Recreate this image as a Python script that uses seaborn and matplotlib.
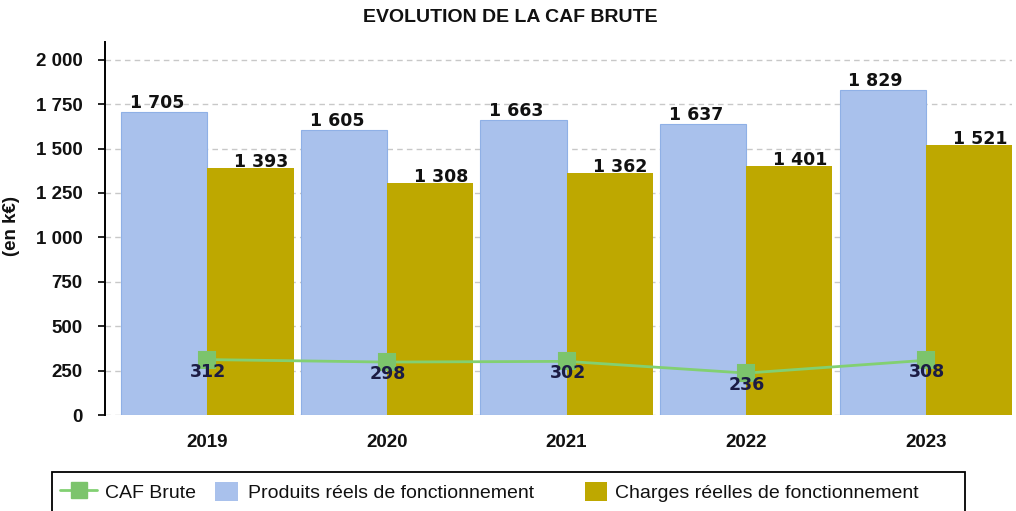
import matplotlib
matplotlib.use("Agg")
import matplotlib.pyplot as plt
import seaborn as sns
import pandas as pd
from matplotlib.patches import Rectangle, Patch
from matplotlib.lines import Line2D
import matplotlib.ticker as mticker
from matplotlib.transforms import ScaledTranslation

years = ["2019", "2020", "2021", "2022", "2023"]
produits = [1705, 1605, 1663, 1637, 1829]
charges = [1393, 1308, 1362, 1401, 1521]
caf = [312, 298, 302, 236, 308]
series_names = ["Produits réels de fonctionnement", "Charges réelles de fonctionnement"]
line_name = "CAF Brute"
title = "EVOLUTION DE LA CAF BRUTE"
ylabel = "(en k€)"
yticks = [0, 250, 500, 750, 1000, 1250, 1500, 1750, 2000]

BLUE = "#a9c1ec"
OLIVE = "#bea800"
GREEN = "#82d072"
MARKER_GREEN = "#7cc46c"

sns.set_theme(style="white")
plt.rcParams["font.family"] = ["Liberation Sans", "DejaVu Sans"]

W, H = 1016, 511
df = pd.DataFrame({
    "year": years * 2,
    "value": produits + charges,
    "serie": [series_names[0]] * len(years) + [series_names[1]] * len(years),
})
df_line = pd.DataFrame({"year": years, "value": caf})

fig = plt.figure(figsize=(W / 100, H / 100), dpi=100)
ax = fig.add_axes([105 / W, 1 - 415 / H, (1012 - 105) / W, (415 - 42) / H])

ax.yaxis.grid(True, color="#c8c8c8", linestyle=(0, (4, 3)), linewidth=1.0)
ax.set_axisbelow(True)

sns.barplot(data=df, x="year", y="value", hue="serie", order=years,
            hue_order=series_names, palette=[BLUE, OLIVE], width=0.96, gap=0,
            saturation=1, errorbar=None, legend=False, ax=ax, zorder=2)
for i, p in enumerate(ax.patches):
    if i < len(years):
        p.set_edgecolor("#8fb0e6")
        p.set_linewidth(0.8)
    else:
        p.set_edgecolor("none")

sns.pointplot(data=df_line, x="year", y="value", order=years, color=GREEN,
              markers="s", markersize=11, linewidth=2.0, errorbar=None, ax=ax, zorder=4)
for ln in ax.lines:
    ln.set_zorder(4)
    ln.set_markerfacecolor(MARKER_GREEN)
    ln.set_markeredgecolor(MARKER_GREEN)

def px(dx, dy):
    return ScaledTranslation(dx / 100, dy / 100, fig.dpi_scale_trans)

bars = ax.patches
for i in range(len(years)):
    pb = bars[i]
    ax.text(pb.get_x() + pb.get_width() / 2, pb.get_height(),
            f"{produits[i]:,}".replace(",", " "),
            transform=ax.transData + px(-7, 0), ha="center", va="bottom",
            fontsize=12.5, fontweight="bold", family="DejaVu Sans", color="#111111", zorder=5)
    pc = bars[len(years) + i]
    ax.text(pc.get_x() + pc.get_width() / 2, pc.get_height(),
            f"{charges[i]:,}".replace(",", " "),
            transform=ax.transData + px(11, -3), ha="center", va="bottom",
            fontsize=12.5, fontweight="bold", family="DejaVu Sans", color="#111111", zorder=5)
    ax.text(i, caf[i], str(caf[i]), transform=ax.transData + px(1, -3),
            ha="center", va="top", fontsize=12.5, fontweight="bold",
            family="DejaVu Sans", color="#1c1c44", zorder=5)

ax.set_xlim(-0.57, 4.48)
ax.set_ylim(0, 2100)
ax.set_yticks(yticks)
ax.yaxis.set_major_formatter(mticker.FuncFormatter(lambda v, p: f"{int(v):,}".replace(",", " ")))
for lab in ax.get_yticklabels():
    lab.set_fontweight("bold")
    lab.set_fontsize(13.5)
for lab in ax.get_xticklabels():
    lab.set_fontweight("bold")
    lab.set_fontsize(13.5)
ax.tick_params(axis="y", which="major", left=True, length=5, width=1.2, color="black",
               pad=11, labelcolor="#111111")
ax.tick_params(axis="x", which="major", bottom=False, pad=8, labelcolor="#111111")
ax.set_xlabel("")
ax.set_ylabel("")
for s in ["top", "right", "bottom"]:
    ax.spines[s].set_visible(False)
ax.spines["left"].set_color("black")
ax.spines["left"].set_linewidth(1.4)

fig.text(510 / W, 1 - 18 / H, title, ha="center", va="center", fontsize=14, fontweight="bold",
         color="#111111")
fig.text(12 / W, 1 - 226 / H, ylabel, rotation=90, ha="center", va="center",
         fontsize=13.5, fontweight="bold", color="#111111")

# legend frame
fig.add_artist(Rectangle((52 / W, -0.05), (965 - 52) / W, 0.05 + (511 - 472) / H,
                         transform=fig.transFigure, facecolor="white", edgecolor="black",
                         linewidth=1.3, zorder=1))

FS = 14
em = FS * 100 / 72  # px per em
legend_items = [
    (Line2D([0], [0], color=GREEN, marker="s", markersize=11, linewidth=2.0,
            markerfacecolor=MARKER_GREEN, markeredgecolor=MARKER_GREEN), line_name, 60, 37, 8),
    (Patch(facecolor=BLUE, edgecolor="none"), series_names[0], 215, 23, 10),
    (Patch(facecolor=OLIVE, edgecolor="none"), series_names[1], 585, 22, 8),
]
for h, lab, x0, hw, gap in legend_items:
    lg = fig.legend([h], [lab], loc="center left", bbox_to_anchor=(x0 / W, 1 - 492 / H),
                    frameon=False, fontsize=FS, handlelength=hw / em, handleheight=21 / em,
                    handletextpad=gap / em, borderpad=0, borderaxespad=0)
    lg.set_zorder(3)
    for t in lg.get_texts():
        t.set_color("#111111")

fig.savefig("out.png", dpi=100)
